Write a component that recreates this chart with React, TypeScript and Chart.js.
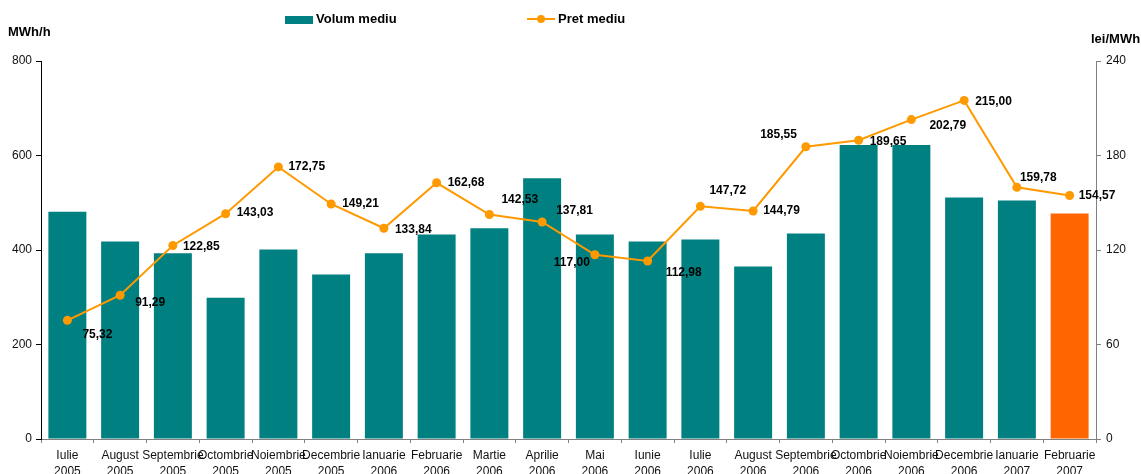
import React, { useEffect, useRef } from "react";
import { Chart, registerables } from "chart.js";

Chart.register(...registerables);

const MONTHS = ["Iulie", "August", "Septembrie", "Octombrie", "Noiembrie", "Decembrie", "Ianuarie", "Februarie", "Martie", "Aprilie", "Mai", "Iunie", "Iulie", "August", "Septembrie", "Octombrie", "Noiembrie", "Decembrie", "Ianuarie", "Februarie"];
const YEARS = ["2005", "2005", "2005", "2005", "2005", "2005", "2006", "2006", "2006", "2006", "2006", "2006", "2006", "2006", "2006", "2006", "2006", "2006", "2007", "2007"];
const VOLUME = [481, 418, 393, 299, 401, 348, 393, 433, 446, 552, 433, 418, 422, 365, 435, 622, 622, 511, 505, 477];
const PRICE = [75.32, 91.29, 122.85, 143.03, 172.75, 149.21, 133.84, 162.68, 142.53, 137.81, 117.0, 112.98, 147.72, 144.79, 185.55, 189.65, 202.79, 215.0, 159.78, 154.57];
const LEFT_TICKS = { min: 0, max: 800, step: 200 };
const RIGHT_TICKS = { min: 0, max: 240, step: 60 };

// label placement relative to each price point: [dx, dy, align]
const LABEL_OFFSETS: [number, number, CanvasTextAlign][] = [
  [15, 14, "left"], [15, 7, "left"], [10, 1, "left"], [11, -1, "left"], [10, 0, "left"],
  [11, 0, "left"], [11, 1, "left"], [11, 0, "left"], [12, -15, "left"], [14, -11, "left"],
  [-5, 8, "right"], [18, 12, "left"], [9, -16, "left"], [10, 0, "left"], [-9, -12, "right"],
  [11, 1, "left"], [18, 6, "left"], [11, 1, "left"], [3, -10, "left"], [9, 0, "left"],
];

const FONT = "'Liberation Sans', Arial, sans-serif";
const TEAL = "#008080";
const ORANGE_BAR = "#FF6600";
const LINE = "#FF9900";

const W = 1141;
const H = 490;

export default function App() {
  const ref = useRef<HTMLCanvasElement>(null);

  useEffect(() => {
    if (!ref.current) return;
    const labels = MONTHS.map((m, i) => [m, YEARS[i]]);
    const barColors = VOLUME.map((_, i) => (i === VOLUME.length - 1 ? ORANGE_BAR : TEAL));

    const decor = {
      id: "decor",
      afterDatasetsDraw(chart: any) {
        const ctx = chart.ctx;
        const meta = chart.getDatasetMeta(1);
        ctx.save();
        ctx.font = `bold 12px ${FONT}`;
        ctx.fillStyle = "#000";
        ctx.textBaseline = "middle";
        meta.data.forEach((pt: any, i: number) => {
          const [dx, dy, align] = LABEL_OFFSETS[i];
          ctx.textAlign = align;
          ctx.fillText(PRICE[i].toFixed(2).replace(".", ","), pt.x + dx, pt.y + dy);
        });
        ctx.restore();
      },
      afterDraw(chart: any) {
        const ctx = chart.ctx;
        ctx.save();
        ctx.font = `bold 13px ${FONT}`;
        ctx.fillStyle = "#000";
        ctx.textBaseline = "middle";
        ctx.textAlign = "left";
        ctx.fillText("MWh/h", 8, 32);
        ctx.fillText("lei/MWh", 1091, 39);
        // legend
        ctx.fillStyle = TEAL;
        ctx.fillRect(285, 16, 28, 8);
        ctx.fillStyle = "#000";
        ctx.fillText("Volum mediu", 316, 19);
        ctx.strokeStyle = LINE;
        ctx.lineWidth = 2;
        ctx.beginPath();
        ctx.moveTo(527, 19);
        ctx.lineTo(555, 19);
        ctx.stroke();
        ctx.fillStyle = LINE;
        ctx.beginPath();
        ctx.arc(541, 19, 4, 0, Math.PI * 2);
        ctx.fill();
        ctx.fillStyle = "#000";
        ctx.fillText("Pret mediu", 558, 19);
        ctx.restore();
      },
    };

    const chart = new Chart(ref.current, {
      type: "bar",
      data: {
        labels,
        datasets: [
          {
            type: "bar",
            label: "Volum mediu",
            data: VOLUME,
            backgroundColor: barColors,
            yAxisID: "y",
            barPercentage: 0.72,
            categoryPercentage: 1,
            order: 1,
          },
          {
            type: "line",
            label: "Pret mediu",
            data: PRICE,
            borderColor: LINE,
            backgroundColor: LINE,
            borderWidth: 2,
            pointRadius: 4.5,
            pointBackgroundColor: LINE,
            pointBorderWidth: 0,
            yAxisID: "y1",
            order: 0,
          },
        ],
      },
      options: {
        responsive: false,
        animation: false,
        layout: { padding: { top: 61, left: 0, right: 0, bottom: 0 } },
        plugins: { legend: { display: false }, tooltip: { enabled: false } },
        scales: {
          x: {
            grid: { display: true, drawOnChartArea: false, offset: true, tickLength: 4, color: "#808080" },
            border: { color: "#808080", width: 1 },
            ticks: {
              color: "#111",
              font: { family: FONT, size: 12, lineHeight: 1.3 },
              padding: 5,
              autoSkip: false,
              maxRotation: 0,
              minRotation: 0,
            },
            afterFit: (s: any) => {
              s.height = H - 439;
            },
          },
          y: {
            position: "left",
            min: LEFT_TICKS.min,
            max: LEFT_TICKS.max,
            ticks: { stepSize: LEFT_TICKS.step, color: "#111", font: { family: FONT, size: 12 }, padding: 4 },
            grid: { display: true, drawOnChartArea: false, tickLength: 5, color: "#000" },
            border: { color: "#000", width: 1 },
            afterFit: (s: any) => {
              s.width = 41;
            },
          },
          y1: {
            position: "right",
            min: RIGHT_TICKS.min,
            max: RIGHT_TICKS.max,
            ticks: { stepSize: RIGHT_TICKS.step, color: "#111", font: { family: FONT, size: 12 }, padding: 5 },
            grid: { display: true, drawOnChartArea: false, tickLength: 5, color: "#808080" },
            border: { color: "#808080", width: 1 },
            afterFit: (s: any) => {
              s.width = W - 1096;
            },
          },
        },
      },
      plugins: [decor],
    } as any);

    return () => chart.destroy();
  }, []);

  return (
    <div style={{ position: "fixed", left: 0, top: 0, width: W, height: 474, overflow: "hidden", background: "#fff" }}>
      <canvas ref={ref} width={W} height={H} style={{ display: "block" }} />
    </div>
  );
}
